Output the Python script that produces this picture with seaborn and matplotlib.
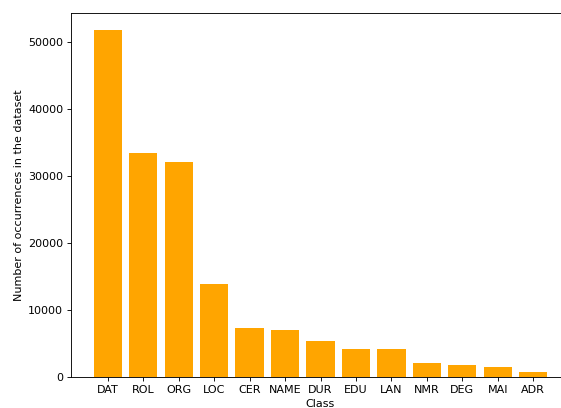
import matplotlib
matplotlib.use('Agg')
import matplotlib.pyplot as plt
import seaborn as sns
import pandas as pd

classes = ['DAT', 'ROL', 'ORG', 'LOC', 'CER', 'NAME', 'DUR', 'EDU', 'LAN', 'NMR', 'DEG', 'MAI', 'ADR']
counts = [51700, 33400, 32050, 13870, 7300, 7000, 5380, 4180, 4180, 2090, 1790, 1500, 760]

df = pd.DataFrame({'Class': classes, 'count': counts})

# original looks like it was drawn at 80 dpi
fig = plt.figure(figsize=(561 / 80, 408 / 80), dpi=80)
# axes runs past the right edge (the original image was cropped)
ax = fig.add_axes([71 / 561, 31 / 408, 499 / 561, 364 / 408])

sns.barplot(data=df, x='Class', y='count', color='orange', saturation=1, width=0.8, ax=ax)

ax.set_xlim(-1.04, 13.04)
ax.set_ylim(0, max(counts) * 1.05)
ax.set_xlabel('Class')
ax.set_ylabel('Number of occurrences in the dataset')

fig.savefig('out.png', dpi=80)
